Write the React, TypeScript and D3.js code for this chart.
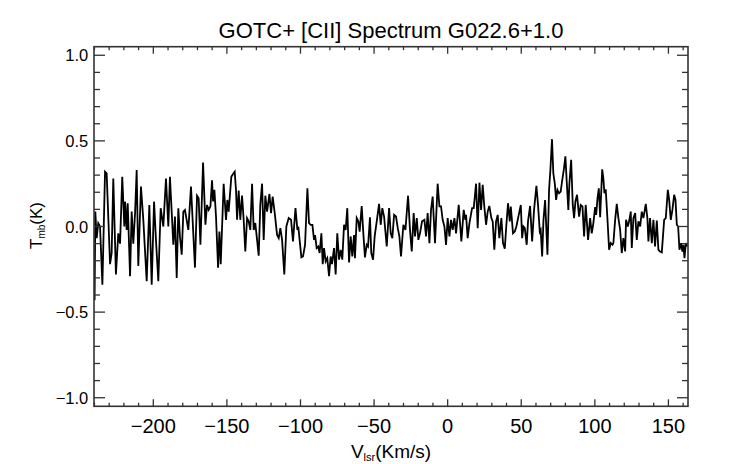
import React from 'react';
import * as d3 from 'd3';

// channel velocities (km/s) and main-beam temperatures (K)
const velocity = [
  -239.9, -239.4, -238.5, -237.4, -236.2, -234.6, -232.8, -231.7, -229.4, -228.3,
  -227.2, -225.4, -223.8, -222.6, -221.1, -219.7, -219.2, -218.1, -217.4, -215.8,
  -214.7, -213.6, -212.4, -211.3, -210.2, -208.4, -206.8, -204.5, -202.7, -201.1,
  -199.5, -198.2, -196.6, -195.0, -193.2, -191.4, -189.8, -188.7, -186.4, -185.3,
  -184.1, -183.0, -181.9, -180.7, -179.6, -178.5, -176.2, -174.4, -171.7,
  -170.3, -169.2, -168.0, -166.2, -164.6, -163.5, -162.4, -161.2, -160.1, -159.4,
  -158.5, -157.4, -156.0, -155.1, -154.2, -152.2, -150.6, -149.7, -148.8, -147.0,
  -145.6, -144.7, -143.8, -143.1, -142.0, -140.9, -139.7, -138.6, -137.5, -136.3,
  -135.2, -134.1, -132.9, -131.8, -130.7, -129.5, -128.4, -127.3, -126.1, -125.0,
  -123.9, -122.7, -121.1, -120.0, -118.9, -117.5, -115.9, -114.8, -113.7, -112.5,
  -111.0, -109.6, -108.0, -106.4, -105.1, -103.4,
  -102.1, -101.5, -100.6, -99.4, -98.3, -96.9, -95.3, -94.2, -93.1, -91.9,
  -90.8, -90.1, -89.0, -87.9, -87.0, -85.8, -84.9, -84.0, -82.9, -81.8,
  -80.6, -79.5, -78.6, -77.2, -76.1, -75.0, -73.8, -72.7, -71.6, -70.4,
  -69.3, -68.2, -67.0, -65.9, -64.8, -63.6, -63.0, -61.8, -60.7, -59.8,
  -58.4, -57.3, -56.2, -55.0, -54.1, -52.8, -51.9, -50.7, -49.6, -48.2,
  -46.6, -45.5, -44.4, -43.2, -41.4, -39.8, -38.7, -37.6, -36.4,
  -35.1, -33.9, -32.8, -31.7, -30.1, -28.7, -26.9, -25.6, -24.4, -23.1,
  -22.2, -21.0, -19.9, -18.8, -17.4, -15.8, -14.7, -13.6, -12.4, -11.3,
  -10.2, -8.6, -6.8, -5.6, -4.5, -3.4, -2.2, -1.1, 0.0, 1.2,
  2.3, 3.4, 4.6, 5.7, 7.5, 9.3, 10.9, 12.0, 12.5, 13.6,
  14.8, 16.6, 17.7, 19.3, 20.4, 21.6, 22.7, 23.8, 24.9, 26.1,
  27.2, 28.3, 29.7, 30.6, 31.7, 32.9, 34.0, 35.1,
  36.5, 37.6, 38.8, 39.9, 41.0, 42.2, 42.9, 44.4, 45.6, 46.7,
  48.3, 49.7, 50.6, 51.5, 52.4, 53.7, 54.6, 56.0, 57.4, 58.7,
  60.3, 61.4, 62.6, 63.2, 64.2, 65.1, 66.2, 67.8, 68.9, 69.8,
  70.9, 71.8, 72.8, 73.7, 74.6, 75.7, 76.8, 77.7, 78.9, 80.0,
  80.9, 82.0, 82.7, 83.9, 85.0, 85.9, 86.8, 87.9, 89.3, 90.4,
  91.6, 92.7, 93.8, 95.4,
  96.8, 97.9, 99.0, 100.2, 100.9, 101.8, 102.7, 103.6, 105.0, 105.8,
  106.5, 107.4, 108.6, 109.7, 110.8, 112.0, 112.6, 113.8, 114.9, 116.0,
  117.2, 118.3, 119.4, 120.6, 121.2, 122.4, 123.5, 124.4, 125.1, 126.2,
  127.4, 128.5, 129.6, 130.8, 131.9, 133.0, 134.6, 135.7, 136.4, 137.5,
  138.7, 139.8, 140.9, 142.1, 143.2, 144.3, 145.5, 147.1, 148.2, 149.6,
  150.5, 151.6, 152.7, 153.9, 154.8, 155.7, 156.6, 157.5, 158.6, 159.5,
  160.2, 160.9, 161.8, 162.7,
];

const tmb = [
  -0.43, 0.087, -0.068, 0.019, 0.0, -0.34, 0.32, 0.31, -0.22, -0.155,
  0.28, -0.28, -0.04, -0.1, 0.29, 0.0, 0.145, -0.02, 0.136, -0.29,
  0.087, -0.1, 0.078, 0.33, -0.23, 0.233, 0.04, -0.32, 0.126, -0.34,
  0.145, -0.078, -0.32, 0.107, 0.0, 0.28, 0.0, 0.29, -0.107, 0.058,
  -0.3, 0.107, -0.06, -0.165, 0.087, 0.097, -0.02, 0.233, -0.24,
  0.18, 0.165, -0.107, 0.373, 0.01, 0.126, 0.097, 0.117, 0.27, 0.146,
  0.214, 0.058, -0.24, -0.03, -0.22, 0.25, 0.039, 0.155, 0.087, 0.29,
  0.31, 0.32, 0.21, 0.039, 0.21, 0.039, 0.18, 0.039, -0.146, 0.049,
  0.03, -0.02, 0.25, -0.02, 0.02, -0.078, -0.17, 0.126, 0.25, -0.078,
  0.18, 0.087, 0.19, 0.078, 0.175, 0.078, -0.05, -0.068, -0.01, -0.078,
  -0.28, 0.0, 0.049, 0.039, -0.087, 0.107,
  -0.02, 0.0, -0.078, -0.18, -0.175, -0.107, 0.223, 0.02, 0.01, 0.01,
  -0.078, -0.05, -0.126, -0.117, -0.155, -0.04, -0.22, -0.126, -0.204, -0.185,
  -0.29, -0.175, -0.22, -0.126, -0.28, -0.04, -0.194, -0.136, -0.194, 0.01,
  -0.02, 0.107, -0.21, -0.058, -0.175, -0.05, -0.185, 0.049, 0.03, -0.03,
  0.12, -0.04, -0.18, -0.107, -0.117, 0.054, -0.155, -0.194, -0.058, 0.03,
  0.132, 0.01, 0.107, 0.058, -0.117, 0.107, -0.04, -0.068, 0.068,
  0.058, -0.01, -0.058, -0.175, 0.01, -0.02, 0.18, -0.02, -0.146, 0.078,
  -0.058, 0.049, -0.078, -0.04, 0.03, 0.039, -0.058, 0.078, -0.097, 0.097,
  0.175, -0.097, 0.25, 0.117, 0.117, 0.039, 0.0, -0.107, 0.049, -0.058,
  0.039, -0.02, 0.049, -0.04, 0.126, -0.087, 0.097, 0.039, 0.068, -0.068,
  0.02, 0.107, 0.107, 0.25, -0.01, 0.256, 0.097, 0.243, 0.117, 0.01,
  0.087, 0.12, 0.049, 0.03, -0.136, 0.03, 0.068, -0.068,
  0.049, -0.097, -0.13, 0.01, 0.136, 0.03, 0.117, -0.04, -0.03, 0.0,
  0.068, 0.126, -0.068, 0.0, -0.01, -0.107, 0.03, 0.12, -0.087, 0.097,
  0.237, 0.126, -0.03, -0.02, -0.175, 0.039, 0.155, -0.165, 0.214, 0.33,
  0.51, 0.31, 0.25, 0.155, 0.214, 0.194, 0.204, 0.262, 0.33, 0.41,
  0.262, 0.097, 0.25, 0.39, 0.126, 0.049, 0.146, 0.185, 0.058, 0.126,
  0.117, -0.058, 0.126, -0.078,
  0.049, -0.04, 0.02, 0.113, 0.068, 0.165, 0.223, 0.054, 0.334, 0.28,
  0.194, 0.217, 0.039, -0.136, -0.097, -0.107, -0.097, 0.039, 0.132, 0.049,
  -0.02, -0.155, -0.068, -0.146, 0.039, 0.0, 0.039, 0.087, -0.126, 0.049,
  0.078, -0.078, 0.03, 0.0, 0.087, 0.049, 0.132, 0.049, -0.087, 0.049,
  -0.097, 0.039, -0.117, 0.035, -0.136, -0.146, -0.151, 0.039, 0.049, 0.214,
  0.155, 0.039, 0.097, 0.185, 0.155, 0.01, 0.0, -0.136, -0.097, -0.146,
  -0.107, -0.185, -0.097, -0.117,
];

const xMajorTicks = [-200, -150, -100, -50, 0, 50, 100, 150];
const yMajorTicks = [-1.0, -0.5, 0.0, 0.5, 1.0];
const title = 'GOTC+ [CII] Spectrum G022.6+1.0';

const W = 742;
const H = 464;
const left = 94;
const right = 688;
const top = 46.7;
const bottom = 406.3;
const font = '"Liberation Sans", Arial, Helvetica, sans-serif';
const axisColor = '#333';

const fmtX = (v: number) => (v < 0 ? '\u2212' + Math.abs(v) : String(v));
const fmtY = (v: number) => (v < 0 ? '\u2212' + Math.abs(v).toFixed(1) : v.toFixed(1));

export default function App() {
  const x = d3.scaleLinear().domain([-240.3, 163.3]).range([left, right]);
  const y = d3.scaleLinear().domain([-1.05, 1.05]).range([bottom, top]);

  const points = velocity.map((v, i) => [v, tmb[i]] as [number, number]);
  const line = d3
    .line<[number, number]>()
    .x((d) => x(d[0]))
    .y((d) => y(d[1]));

  const xMinor = d3.range(-240, 161, 10).filter((v) => v % 50 !== 0);
  const yMinor = d3.range(-10, 11).map((k) => k / 10).filter((v) => Math.abs(v * 10) % 5 !== 0);

  return (
    <svg
      width={W}
      height={H}
      style={{ position: 'absolute', left: 0, top: 0, background: '#fff' }}
      fontFamily={font}
    >
      <defs>
        <clipPath id="plot-clip">
          <rect x={left} y={top} width={right - left} height={bottom - top} />
        </clipPath>
      </defs>

      <text x={(left + right) / 2} y={38.3} textAnchor="middle" fontSize={22} fill="#000">
        {title}
      </text>

      {/* spectrum */}
      <path
        d={line(points) || ''}
        fill="none"
        stroke="#000"
        strokeWidth={1.8}
        clipPath="url(#plot-clip)"
      />

      {/* frame */}
      <rect
        x={left}
        y={top}
        width={right - left}
        height={bottom - top}
        fill="none"
        stroke={axisColor}
        strokeWidth={1.6}
      />

      {/* x ticks, bottom and top */}
      {xMajorTicks.map((v) => (
        <g key={'xM' + v}>
          <line x1={x(v)} x2={x(v)} y1={bottom} y2={bottom - 7} stroke={axisColor} strokeWidth={1.3} />
          <line x1={x(v)} x2={x(v)} y1={top} y2={top + 7} stroke={axisColor} strokeWidth={1.3} />
          <text x={x(v)} y={433.3} textAnchor="middle" fontSize={20} fill="#000">
            {fmtX(v)}
          </text>
        </g>
      ))}
      {xMinor.map((v) => (
        <g key={'xm' + v}>
          <line x1={x(v)} x2={x(v)} y1={bottom} y2={bottom - 3.5} stroke={axisColor} strokeWidth={1.3} />
          <line x1={x(v)} x2={x(v)} y1={top} y2={top + 3.5} stroke={axisColor} strokeWidth={1.3} />
        </g>
      ))}

      {/* y ticks, left and right */}
      {yMajorTicks.map((v) => (
        <g key={'yM' + v}>
          <line x1={left} x2={left + 11} y1={y(v)} y2={y(v)} stroke={axisColor} strokeWidth={1.3} />
          <line x1={right} x2={right - 11} y1={y(v)} y2={y(v)} stroke={axisColor} strokeWidth={1.3} />
          <text x={88.3} y={y(v) + 6.2} textAnchor="end" fontSize={16.5} fill="#000">
            {fmtY(v)}
          </text>
        </g>
      ))}
      {yMinor.map((v) => (
        <g key={'ym' + v}>
          <line x1={left} x2={left + 6} y1={y(v)} y2={y(v)} stroke={axisColor} strokeWidth={1.3} />
          <line x1={right} x2={right - 6} y1={y(v)} y2={y(v)} stroke={axisColor} strokeWidth={1.3} />
        </g>
      ))}

      {/* axis titles */}
      <text x={(left + right) / 2} y={457.7} textAnchor="middle" fontSize={19} fill="#000">
        <tspan>V</tspan>
        <tspan fontSize={11} dy={3}>lsr</tspan>
        <tspan dy={-3}>(Km/s)</tspan>
      </text>
      <text
        transform={`translate(41.7, ${(top + bottom) / 2 - 1}) rotate(-90)`}
        textAnchor="middle"
        fontSize={17}
        fill="#000"
      >
        <tspan>T</tspan>
        <tspan fontSize={10} dy={3}>mb</tspan>
        <tspan dy={-3}>(K)</tspan>
      </text>
    </svg>
  );
}
